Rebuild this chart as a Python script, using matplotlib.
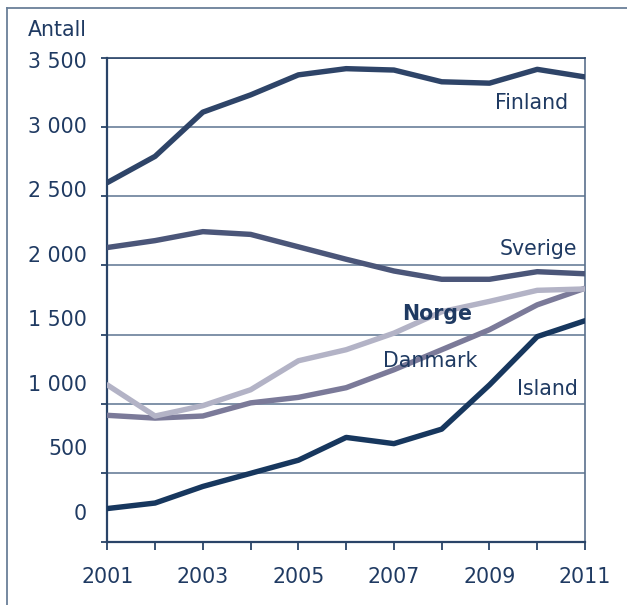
import matplotlib
matplotlib.use("Agg")
import matplotlib.pyplot as plt
from matplotlib.lines import Line2D

years = list(range(2001, 2012))
finland = [2600, 2790, 3110, 3235, 3380, 3425, 3415, 3330, 3320, 3420, 3365]
sverige = [2130, 2180, 2245, 2225, 2135, 2045, 1960, 1900, 1900, 1955, 1940]
norge = [1135, 910, 985, 1100, 1310, 1390, 1510, 1665, 1740, 1820, 1830]
danmark = [915, 895, 910, 1005, 1045, 1115, 1245, 1390, 1535, 1715, 1835]
island = [240, 280, 400, 495, 590, 755, 710, 815, 1135, 1485, 1600]
ytick_values = [0, 500, 1000, 1500, 2000, 2500, 3000, 3500]
ytick_labels = ["0", "500", "1 000", "1 500", "2 000", "2 500", "3 000", "3 500"]
xtick_labels = ["2001", "", "2003", "", "2005", "", "2007", "", "2009", "", "2011"]

TXT = "#1f3a62"
AX = "#2a4468"
GRID = "#6a7f99"
FS = 14.8

W, H = 627, 605
fig = plt.figure(figsize=(W / 100, H / 100), dpi=100)
ax = fig.add_axes([107.3 / W, 63.3 / H, (585 - 107.3) / W, (541.7 - 58.3) / H])

series = [
    (finland, "#2e4468"),
    (sverige, "#4b5679"),
    (norge, "#b3b3c6"),
    (danmark, "#7b7a99"),
    (island, "#17375e"),
]
for vals, col in series[::-1]:
    ax.plot(years, vals, color=col, lw=3.9, solid_capstyle="round", solid_joinstyle="round", zorder=3)

ax.set_xlim(2001, 2011)
ax.set_ylim(0, 3500)
ax.set_xticks(years)
ax.set_xticklabels(xtick_labels, fontsize=FS, color=TXT)
ax.set_yticks(ytick_values)
ax.set_yticklabels([])
ax.tick_params(axis="x", length=5.5, width=1.3, color=AX, pad=12.5)
ax.tick_params(axis="y", length=4, width=1.3, color=AX)
ax.grid(axis="y", color=GRID, lw=1.2, zorder=1)
ax.set_axisbelow(True)
for s in ["left", "bottom"]:
    ax.spines[s].set_color(AX)
    ax.spines[s].set_linewidth(1.6)
ax.spines["right"].set_color("#5a708c")
ax.spines["right"].set_linewidth(1.2)
ax.spines["top"].set_color(AX)
ax.spines["top"].set_linewidth(1.2)

# label axis (labels sit on their own scale, as in the reference)
ax2 = ax.twinx()
s = 452 / 3500.0
ymin2 = -(541.7 - 512) / s
ymax2 = ymin2 + 483.4 / s
ax2.set_ylim(ymin2, ymax2)
ax2.yaxis.tick_left()
ax2.set_yticks(ytick_values)
ax2.set_yticklabels(ytick_labels, fontsize=FS, color=TXT)
ax2.tick_params(axis="y", length=0, pad=14.5)
for sp in ax2.spines.values():
    sp.set_visible(False)

ax.text(2010.64, 3176, "Finland", ha="right", va="center", fontsize=FS, color=TXT)
ax.text(2010.84, 2117, "Sverige", ha="right", va="center", fontsize=FS, color=TXT)
ax.text(2007.91, 1647, "Norge", ha="center", va="center", fontsize=FS, color=TXT, fontweight="bold")
ax.text(2007.76, 1311, "Danmark", ha="center", va="center", fontsize=FS, color=TXT)
ax.text(2010.86, 1106, "Island", ha="right", va="center", fontsize=FS, color=TXT)

fig.text(28 / W, 1 - 36 / H, "Antall", ha="left", va="baseline", fontsize=FS, color=TXT)

# outer frame
fig.add_artist(Line2D([7 / W, 7 / W], [0, 1 - 8 / H], transform=fig.transFigure, color=GRID, lw=1.3))
fig.add_artist(Line2D([7 / W, 1], [1 - 8 / H, 1 - 8 / H], transform=fig.transFigure, color=GRID, lw=1.3))

fig.savefig("out.png", dpi=100)
